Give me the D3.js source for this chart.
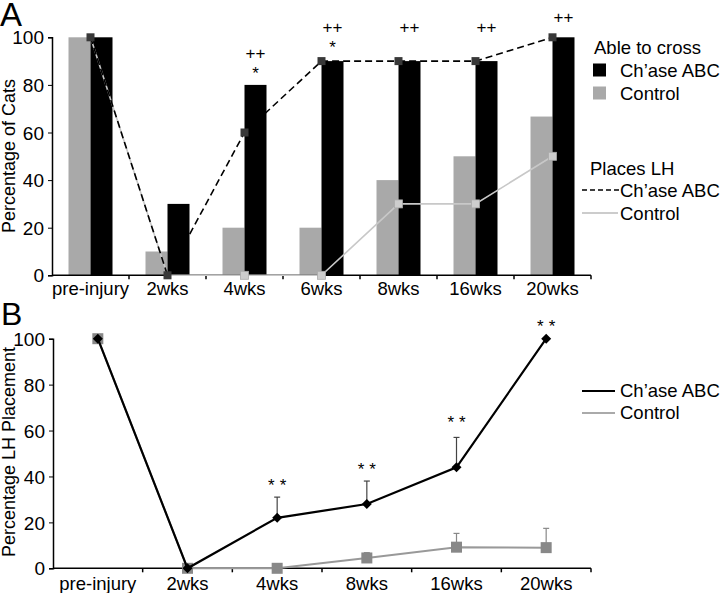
<!DOCTYPE html>
<html><head><meta charset="utf-8">
<script src="https://cdn.jsdelivr.net/npm/d3@7"></script>
<style>
html,body{margin:0;padding:0;background:#fff;}
svg text{font-family:"Liberation Sans",Arial,sans-serif;fill:#000;}
</style></head>
<body>
<svg id="c" width="720" height="593"></svg>
<script>
// ---------- DATA ----------
const catsA = ["pre-injury","2wks","4wks","6wks","8wks","16wks","20wks"];
const crossChase   = [100,30,80,90,90,90,100];
const crossControl = [100,10,20,20,40,50,66.7];
const lhChase      = [100,0,60,90,90,90,100];
const lhControl    = [100,0,0,0,30,30,50];
const yTicks = [0,20,40,60,80,100];
// significance marks for panel A: [category, text, level in %]
const annotA = [["4wks","++",91],["4wks","*",82.3],["6wks","++",101.6],["6wks","*",93.6],
                ["8wks","++",101.6],["16wks","++",101.6],["20wks","++",106.2]];

const catsB = ["pre-injury","2wks","4wks","8wks","16wks","20wks"];
const bChase      = [100,0,22,28,44,100];
const bChaseErr   = [0,0,9,10,13,0];
const bControl    = [100,0,0,4.5,9.2,9];
const bControlErr = [0,0,0,2.3,6,8.4];
const annotB = [["4wks","**",33.7],["8wks","**",40.8],["16wks","**",61.3],["20wks","**",103]];

// ---------- DRAW ----------
const svg = d3.select("#c");
const FS = 18.5;

// Panel A
const xA = d3.scaleBand().domain(catsA).range([52,591]);
const yA = d3.scaleLinear().domain([0,100]).range([275.3,37.3]);
const bw = 22;
const gA = svg.append("g");

svg.append("text").attr("x",0).attr("y",26).attr("font-size",33).text("A");

// bars
catsA.forEach((c,i)=>{
  const cx = xA(c)+xA.bandwidth()/2;
  gA.append("rect").attr("x",cx-bw).attr("width",bw).attr("y",yA(crossControl[i]))
    .attr("height",yA(0)-yA(crossControl[i])).attr("fill","#a9a9a9");
  gA.append("rect").attr("x",cx).attr("width",bw).attr("y",yA(crossChase[i]))
    .attr("height",yA(0)-yA(crossChase[i])).attr("fill","#000");
});

// axes A
const yAxA = gA.append("g").attr("transform","translate(52,0)")
  .call(d3.axisLeft(yA).tickValues(yTicks).tickSize(4).tickPadding(4));
yAxA.select(".domain").attr("stroke","#000").attr("stroke-width",1.5);
yAxA.selectAll("text").attr("font-size",19).attr("dy","0.35em");
const xAxA = gA.append("g").attr("transform",`translate(0,${yA(0)})`);
xAxA.append("line").attr("x1",52).attr("x2",591).attr("stroke","#000").attr("stroke-width",1.5);
catsA.forEach((c,i)=>{
  const xb = xA(c)+xA.bandwidth();
  xAxA.append("line").attr("x1",xb).attr("x2",xb).attr("y1",0).attr("y2",4).attr("stroke","#000").attr("stroke-width",1.5);
  xAxA.append("text").attr("x",xA(c)+xA.bandwidth()/2).attr("y",20).attr("text-anchor","middle")
    .attr("font-size",FS).text(c);
});

// lines A
const cxA = c=>xA(c)+xA.bandwidth()/2;
const lineA = d3.line().x(d=>cxA(d[0])).y(d=>yA(d[1]));
gA.append("path").datum(catsA.map((c,i)=>[c,lhControl[i]])).attr("d",lineA)
  .attr("fill","none").attr("stroke","#c8c8c8").attr("stroke-width",1.6);
gA.append("path").datum(catsA.map((c,i)=>[c,lhChase[i]])).attr("d",lineA)
  .attr("fill","none").attr("stroke","#000").attr("stroke-width",1.6).attr("stroke-dasharray","7,4");
catsA.forEach((c,i)=>{
  if(i>=2) gA.append("rect").attr("x",cxA(c)-4).attr("y",yA(lhControl[i])-4).attr("width",8).attr("height",8)
    .attr("fill","#cdcdcd").attr("stroke","#aaa").attr("stroke-width",0.8);
});
catsA.forEach((c,i)=>{
  gA.append("rect").attr("x",cxA(c)-4).attr("y",yA(lhChase[i])-4).attr("width",8).attr("height",8)
    .attr("fill","#383838");
});

// annotations A
annotA.forEach(a=>{
  gA.append("text").attr("x",cxA(a[0])+bw/2).attr("y",yA(a[2])).attr("text-anchor","middle")
    .attr("font-size",17).text(a[1]);
});

// legend A
const lg = svg.append("g");
lg.append("text").attr("x",594).attr("y",53.5).attr("font-size",FS).text("Able to cross");
lg.append("rect").attr("x",593).attr("y",63.5).attr("width",13).attr("height",13).attr("fill","#000");
lg.append("text").attr("x",620).attr("y",76.5).attr("font-size",FS).text("Ch\u2019ase ABC");
lg.append("rect").attr("x",593).attr("y",86.5).attr("width",13).attr("height",13).attr("fill","#a9a9a9");
lg.append("text").attr("x",620).attr("y",99.5).attr("font-size",FS).text("Control");
lg.append("text").attr("x",590).attr("y",174.5).attr("font-size",FS).text("Places LH");
lg.append("line").attr("x1",582).attr("x2",619).attr("y1",190).attr("y2",190).attr("stroke","#000")
  .attr("stroke-width",1.6).attr("stroke-dasharray","5,3");
lg.append("text").attr("x",620).attr("y",196.5).attr("font-size",FS).text("Ch\u2019ase ABC");
lg.append("line").attr("x1",582).attr("x2",618).attr("y1",213).attr("y2",213).attr("stroke","#bbb").attr("stroke-width",1.6);
lg.append("text").attr("x",620).attr("y",219.5).attr("font-size",FS).text("Control");

svg.append("text").attr("transform","translate(15,156) rotate(-90)").attr("text-anchor","middle")
  .attr("font-size",18).text("Percentage of Cats");

// Panel B
svg.append("text").attr("x",1).attr("y",325).attr("font-size",32).text("B");
const xB = d3.scaleBand().domain(catsB).range([53,591]);
const yB = d3.scaleLinear().domain([0,100]).range([568.3,338.7]);
const gB = svg.append("g");
const cxB = c=>xB(c)+xB.bandwidth()/2;

const yAxB = gB.append("g").attr("transform","translate(53,0)")
  .call(d3.axisLeft(yB).tickValues(yTicks).tickSize(4).tickPadding(4));
yAxB.select(".domain").attr("stroke","#000").attr("stroke-width",1.5);
yAxB.selectAll("text").attr("font-size",19).attr("dy","0.35em");
const xAxB = gB.append("g").attr("transform",`translate(0,${yB(0)})`);
xAxB.append("line").attr("x1",53).attr("x2",591).attr("stroke","#000").attr("stroke-width",1.5);
catsB.forEach(c=>{
  const xb = xB(c)+xB.bandwidth();
  xAxB.append("line").attr("x1",xb).attr("x2",xb).attr("y1",0).attr("y2",4).attr("stroke","#000").attr("stroke-width",1.5);
  xAxB.append("text").attr("x",cxB(c)).attr("y",22).attr("text-anchor","middle").attr("font-size",FS).text(c);
});

const lineB = d3.line().x(d=>cxB(d[0])).y(d=>yB(d[1]));
// error bars
function errBars(vals, errs, col){
  catsB.forEach((c,i)=>{
    if(errs[i]>0){
      const x=cxB(c), y0=yB(vals[i]), y1=yB(vals[i]+errs[i]);
      gB.append("line").attr("x1",x).attr("x2",x).attr("y1",y0).attr("y2",y1).attr("stroke",col).attr("stroke-width",1.2);
      gB.append("line").attr("x1",x-3).attr("x2",x+3).attr("y1",y1).attr("y2",y1).attr("stroke",col).attr("stroke-width",1.2);
    }
  });
}
errBars(bControl,bControlErr,"#888");
gB.append("path").datum(catsB.map((c,i)=>[c,bControl[i]])).attr("d",lineB)
  .attr("fill","none").attr("stroke","#999").attr("stroke-width",2);
catsB.forEach((c,i)=>{
  gB.append("rect").attr("x",cxB(c)-5.5).attr("y",yB(bControl[i])-5.5).attr("width",11).attr("height",11).attr("fill","#888");
});
errBars(bChase,bChaseErr,"#444");
gB.append("path").datum(catsB.map((c,i)=>[c,bChase[i]])).attr("d",lineB)
  .attr("fill","none").attr("stroke","#000").attr("stroke-width",2.2);
const diamond = d3.symbol().type(d3.symbolSquare).size(50);
catsB.forEach((c,i)=>{
  gB.append("path").attr("d",diamond).attr("transform",`translate(${cxB(c)},${yB(bChase[i])}) rotate(45)`).attr("fill","#000");
});
annotB.forEach(a=>{
  gB.append("text").attr("x",cxB(a[0])).attr("dx",2.5).attr("y",yB(a[2])).attr("text-anchor","middle")
    .attr("font-size",17).attr("letter-spacing","5px").text(a[1]);
});

// legend B
lg.append("line").attr("x1",582).attr("x2",615).attr("y1",391).attr("y2",391).attr("stroke","#000").attr("stroke-width",2.2);
lg.append("text").attr("x",620).attr("y",396.5).attr("font-size",FS).text("Ch\u2019ase ABC");
lg.append("line").attr("x1",582).attr("x2",615).attr("y1",413).attr("y2",413).attr("stroke","#aaa").attr("stroke-width",2);
lg.append("text").attr("x",620).attr("y",418.5).attr("font-size",FS).text("Control");

svg.append("text").attr("transform","translate(15,452) rotate(-90)").attr("text-anchor","middle")
  .attr("font-size",18).text("Percentage LH Placement");
</script>
</body></html>
